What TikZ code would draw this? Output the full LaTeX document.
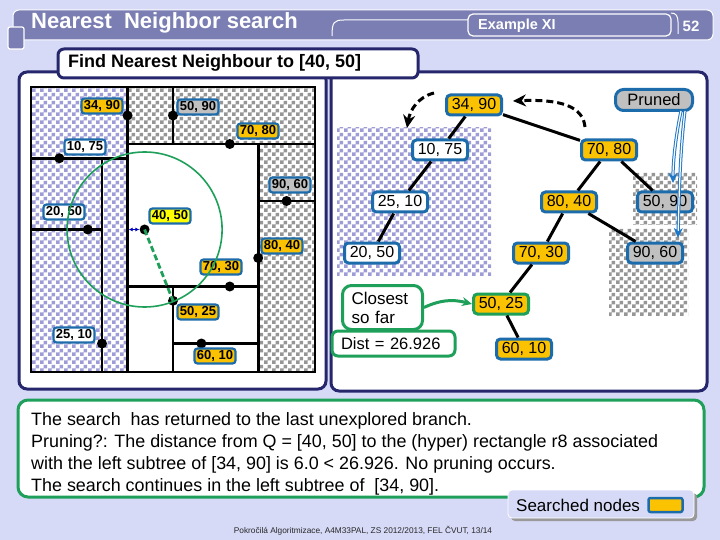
\documentclass[tikz,border=0pt]{standalone}
\usepackage{fontspec}
\setmainfont{Liberation Sans}
\usetikzlibrary{arrows.meta,patterns}
\pgfdeclarepatternformonly{bigcheck}{\pgfpointorigin}{\pgfqpoint{8pt}{8pt}}{\pgfqpoint{8pt}{8pt}}{%
  \pgfpathrectangle{\pgfpointorigin}{\pgfqpoint{4pt}{4pt}}%
  \pgfpathrectangle{\pgfqpoint{4pt}{4pt}}{\pgfqpoint{4pt}{4pt}}%
  \pgfusepath{fill}}
\definecolor{bgl}{RGB}{214,218,247}
\definecolor{slate}{RGB}{122,126,178}
\definecolor{navy}{RGB}{38,38,108}
\definecolor{lblue}{RGB}{28,108,172}
\definecolor{gold}{RGB}{250,194,0}
\definecolor{greyn}{RGB}{192,192,192}
\definecolor{qyel}{RGB}{255,255,0}
\definecolor{chkl}{RGB}{158,156,214}
\definecolor{chkg}{RGB}{150,150,150}
\definecolor{grn}{RGB}{30,160,90}
\definecolor{pblue}{RGB}{30,120,200}
\tikzset{
 kdline/.style={line width=2.6pt, line cap=rect},
 kddot/.style={circle, fill=black, inner sep=0pt, minimum size=10pt},
 kdlbl/.style={draw=lblue, line width=2.2pt, rounded corners=3pt, inner sep=1pt, minimum width=41pt, minimum height=15pt, font=\bfseries\fontsize{13}{14}\selectfont},
 tnode/.style={draw=lblue, line width=3pt, rounded corners=4pt, inner sep=2pt, minimum width=55pt, minimum height=20pt, font=\fontsize{16}{18}\selectfont},
 tedge/.style={line width=3pt},
 dasharrow/.style={line width=3pt, dash pattern=on 7pt off 4pt, -{Stealth[length=13pt,width=12pt]}},
 prunearrow/.style={draw=pblue, line width=1pt, double=white, double distance=1.2pt, -{Stealth[length=10pt,width=9pt]}},
 greenbox/.style={draw=grn, line width=3pt, fill=white},
 txt/.style={font=\fontsize{17.9}{20}\selectfont, inner sep=0pt},
}
\begin{document}
\begin{tikzpicture}[x=1pt,y=-1pt]
\useasboundingbox (0,0) rectangle (720,540);
\fill[bgl] (0,0) rectangle (720,540);
% header
\filldraw[fill=slate, draw=white, line width=1pt, rounded corners=6pt] (13,10) rectangle (713,40);
\filldraw[fill=slate, draw=white, line width=1.2pt, rounded corners=2pt] (8,27) rectangle (24,49);
\node[anchor=west, inner sep=0pt, text=white, font=\bfseries\fontsize{22}{24}\selectfont] (title) at (31,23) {Nearest\ \ Neighbor search};
\draw[white, line width=1pt] (332,36) .. controls (332,22) and (334,20) .. (344,20) -- (468,20);
\node[draw=white, line width=1.2pt, rounded corners=5pt, minimum width=203pt, minimum height=22pt, inner sep=0pt] (exbox) at (569.5,25) {};
\node[anchor=west, inner sep=0pt, text=white, font=\bfseries\fontsize{14.5}{16}\selectfont] (extxt) at (478,26) {Example XI};
\draw[white, line width=1pt] (671,13) .. controls (676,13) and (678,16) .. (678,22) -- (678,34);
\node[text=white, inner sep=0pt, font=\bfseries\fontsize{15}{18}\selectfont] (pnum) at (691,26) {52};
% panels
\draw[navy, line width=3pt, fill=white, rounded corners=8pt] (19,72) rectangle (326,389);
\draw[navy, line width=3pt, fill=white, rounded corners=8pt] (331,72) rectangle (707,391);
\draw[navy, line width=3pt, fill=white, rounded corners=6pt] (58,49) rectangle (418,78);
\node[anchor=west, inner sep=0pt, font=\bfseries\fontsize{18}{20}\selectfont] (findtxt) at (68,63) {Find Nearest Neighbour to [40, 50]};
% kd partition
\begin{scope}[shift={(31,372)}, x=2.84pt, y=2.85pt]
 \fill[white] (0,0) rectangle (100,100);
 \fill[pattern=bigcheck, pattern color=chkl] (0,0) rectangle (34,100);
 \fill[pattern=bigcheck, pattern color=chkg] (34,80) rectangle (100,100);
 \fill[pattern=bigcheck, pattern color=chkg] (80,0) rectangle (100,80);
 \draw[kdline] (0,0) rectangle (100,100);
 \draw[kdline] (34,0) -- (34,100);
 \draw[kdline] (0,75) -- (34,75);
 \draw[kdline] (25,0) -- (25,75);
 \draw[kdline] (0,50) -- (25,50);
 \draw[kdline] (34,80) -- (100,80);
 \draw[kdline] (50,80) -- (50,100);
 \draw[kdline] (80,0) -- (80,80);
 \draw[kdline] (80,60) -- (100,60);
 \draw[kdline] (34,30) -- (80,30);
 \draw[kdline] (50,0) -- (50,30);
 \draw[kdline] (50,10) -- (80,10);
 \node[kddot] (d3490) at (34,90) {};
 \node[kddot] (d5090) at (50,90) {};
 \node[kddot] (d7080) at (70,80) {};
 \node[kddot] (d1075) at (10,75) {};
 \node[kddot] (d9060) at (90,60) {};
 \node[kddot] (d2050) at (20,50) {};
 \node[kddot] (d4050) at (40,50) {};
 \node[kddot] (d8040) at (80,40) {};
 \node[kddot] (d7030) at (70,30) {};
 \node[kddot] (d5025) at (50,25) {};
 \node[kddot] (d2510) at (25,10) {};
 \node[kddot] (d6010) at (60,10) {};
 \coordinate (q34) at (34.4,50);
\end{scope}
\node[kdlbl, fill=gold] (l3490) at (102,106) {34, 90};
\node[kdlbl, fill=greyn] (l5090) at (198,107) {50, 90};
\node[kdlbl, fill=gold] (l7080) at (258,131) {70, 80};
\node[kdlbl, fill=white] (l1075) at (85,147) {10, 75};
\node[kdlbl, fill=greyn] (l9060) at (290,185) {90, 60};
\node[kdlbl, fill=white] (l2050) at (64,212) {20, 50};
\node[kdlbl, fill=qyel] (l4050) at (170,216) {40, 50};
\node[kdlbl, fill=gold] (l8040) at (282,246) {80, 40};
\node[kdlbl, fill=gold] (l7030) at (221,267) {70, 30};
\node[kdlbl, fill=gold] (l5025) at (198,312) {50, 25};
\node[kdlbl, fill=white] (l2510) at (74,335) {25, 10};
\node[kdlbl, fill=gold] (l6010) at (215,356) {60, 10};
\draw[grn, line width=1.6pt] (d4050.center) circle[radius=77.5pt];
\draw[grn, line width=2.8pt, dash pattern=on 6pt off 3pt] (d4050.center) -- (d5025.center);
\draw[blue!75!black, line width=1.2pt, {Latex[length=4pt,width=4pt]}-{Latex[length=4pt,width=4pt]}] (q34) -- (d4050.west);
% tree panel
\fill[pattern=bigcheck, pattern color=chkl] (337,128) rectangle (491,275);
\fill[pattern=bigcheck, pattern color=chkg] (633,173) rectangle (697,225);
\fill[pattern=bigcheck, pattern color=chkg] (609,229) rectangle (688,315);
\node[tnode, fill=gold] (t3490) at (474,105) {34, 90};
\node[tnode, fill=white] (t1075) at (440,150) {10, 75};
\node[tnode, fill=gold] (t7080) at (609,150) {70, 80};
\node[tnode, fill=white] (t2510) at (400,202) {25, 10};
\node[tnode, fill=gold] (t8040) at (569,202) {80, 40};
\node[tnode, fill=greyn] (t5090) at (665,202) {50, 90};
\node[tnode, fill=white] (t2050) at (372,253) {20, 50};
\node[tnode, fill=gold] (t7030) at (541,253) {70, 30};
\node[tnode, fill=greyn] (t9060) at (655,253) {90, 60};
\node[tnode, fill=gold, draw=grn] (t5025) at (501,304) {50, 25};
\node[tnode, fill=gold] (t6010) at (524,349) {60, 10};
\node[tnode, fill=greyn, rounded corners=8pt, minimum width=77pt, minimum height=21pt, font=\fontsize{16.5}{18}\selectfont] (pruned) at (654,100) {Pruned};
\draw[tedge] (t3490) -- (t1075);
\draw[tedge] (t3490) -- (t7080);
\draw[tedge] (t1075) -- (t2510);
\draw[tedge] (t2510) -- (t2050);
\draw[tedge] (t7080) -- (t8040);
\draw[tedge] (t7080) -- (t5090);
\draw[tedge] (t8040) -- (t7030);
\draw[tedge] (t8040) -- (t9060);
\draw[tedge] (t7030) -- (t5025);
\draw[tedge] (t5025) -- (t6010);
% dashed arrows
\coordinate (da1s) at (434,93);
\coordinate (da1e) at (407,128);
\coordinate (da2s) at (585,127);
\coordinate (da2e) at (513,101);
\draw[dasharrow] (da1s) .. controls (418,97) and (410,110) .. (da1e);
\draw[dasharrow] (da2s) .. controls (583,106) and (560,99) .. (da2e);
% pruned arrows
\coordinate (pa1s) at (681,111);
\coordinate (pa1e) at (673,183);
\coordinate (pa2s) at (685,111);
\coordinate (pa2e) at (678,238);
\draw[prunearrow] (pa1s) .. controls (676,135) and (673,160) .. (pa1e);
\draw[prunearrow] (pa2s) .. controls (680,150) and (679,200) .. (pa2e);
% closest so far
\node[greenbox, rounded corners=9pt, text width=62pt, inner xsep=9pt, inner ysep=3pt, align=left, minimum height=44pt, font=\fontsize{17}{19}\selectfont] (closest) at (382.5,307.5) {Closest\\so far};
\node[greenbox, rounded corners=6pt, text width=105pt, inner xsep=9pt, inner ysep=3pt, align=left, minimum height=25pt, font=\fontsize{16.5}{18}\selectfont] (dist) at (393.5,343.5) {Dist = 26.926};
\draw[grn, line width=3pt, -{Stealth[length=10pt,width=9pt]}] (closest.east) .. controls (440,300) and (452,299) .. (t5025.west);
% explanation box
\draw[grn, line width=3pt, fill=white, rounded corners=10pt] (18,400) rectangle (704,497);
\node[txt, anchor=base west] (e1) at (31,425) {The search\ \ has returned to the last unexplored branch.};
\node[txt, anchor=base west] (e2) at (31,447) {Pruning?: The distance from Q = [40, 50] to the (hyper) rectangle r8 associated};
\node[txt, anchor=base west] (e3) at (31,469) {with the left subtree of [34, 90] is 6.0 < 26.926. No pruning occurs.};
\node[txt, anchor=base west] (e4) at (31,491) {The search continues in the left subtree of\ \ [34, 90].};
% searched nodes legend
\fill[black!40, rounded corners=4pt] (511,493) rectangle (697,521);
\filldraw[fill=bgl, draw=white, line width=0.8pt, rounded corners=4pt] (508,490) rectangle (694,518);
\node[inner sep=0pt, anchor=west, font=\fontsize{17}{18}\selectfont] (sn) at (516,505) {Searched nodes};
\node[draw=lblue, line width=2.5pt, fill=gold, rounded corners=2pt, minimum width=34pt, minimum height=14pt, inner sep=0pt] (swatch) at (665.5,505) {};
% footer
\node[inner sep=0pt, text=black!85, font=\fontsize{8.3}{9}\selectfont] (foot) at (363,531) {Pokročilá Algoritmizace, A4M33PAL, ZS 2012/2013, FEL ČVUT, 13/14};
\end{tikzpicture}
\end{document}
